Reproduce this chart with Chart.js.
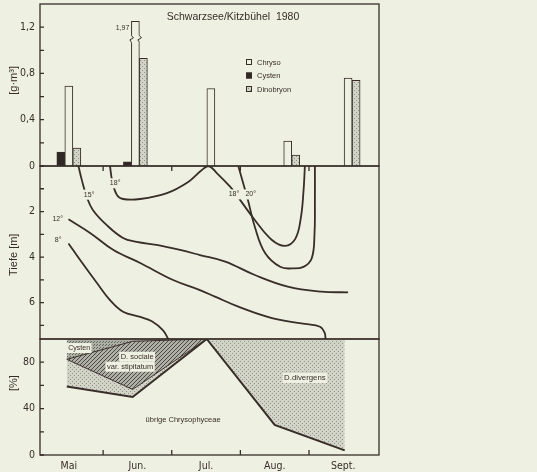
<!DOCTYPE html>
<html>
<head>
<meta charset="utf-8">
<script src="https://cdn.jsdelivr.net/npm/chart.js@4.4.1/dist/chart.umd.min.js"></script>
<style>
  html, body { margin: 0; padding: 0; background: #eef0e1; }
  #page { position: relative; width: 537px; height: 472px; overflow: hidden; background: #eef0e1; }
  #page canvas { position: absolute; left: 0; }
</style>
</head>
<body>
<div id="page">
  <canvas id="mass" width="537" height="172" style="top:0"></canvas>
  <canvas id="depth" width="537" height="185" style="top:160px"></canvas>
  <canvas id="share" width="537" height="139" style="top:333px"></canvas>
</div>
<script>
// Schwarzsee / Kitzbühel 1980: biomass, isotherms and composition

const months = ["Mai", "Jun.", "Jul.", "Aug.", "Sept."];
const monthCentres = [0.5, 1.5, 2.5, 3.5, 4.5]; // months after 1 May
const monthBounds = [1, 2, 3, 4];

// biomass [g m-3]
const barDates = [0.5, 1.47, 2.57, 3.69, 4.57];
const chryso = [0.69, 1.97, 0.67, 0.215, 0.76];
const cysten = [0.12, 0.035, 0, 0, 0];
const dinobryon = [0.155, 0.93, 0, 0.095, 0.74];
const massTicks = [0, 0.2, 0.4, 0.6, 0.8, 1, 1.2];
const massLabels = [0, 0.4, 0.8, 1.2];

// isotherms, [month, depth m]
const iso8 = [[0.495, 3.4], [0.665, 4.13], [0.91, 5.14], [1.1, 5.89], [1.29, 6.4],
  [1.54, 6.63], [1.71, 6.82], [1.87, 7.21], [1.95, 7.6]];
const iso12 = [[0.495, 2.34], [0.81, 2.94], [1.15, 3.69], [1.54, 4.26], [2.02, 5.01],
  [2.41, 5.45], [2.63, 5.74], [2.97, 6.18], [3.46, 6.68], [3.94, 6.94], [4.16, 7.06],
  [4.23, 7.34], [4.24, 7.6]];
const iso15 = [[0.64, 0], [0.69, 0.62], [0.76, 1.35], [0.85, 1.93], [1.05, 2.59],
  [1.29, 3.16], [1.49, 3.33], [1.78, 3.47], [2.12, 3.69], [2.41, 3.91], [2.78, 4.2],
  [3.21, 4.79], [3.69, 5.3], [4.18, 5.52], [4.57, 5.55]];
const iso18 = [[1.1, 0], [1.13, 0.62], [1.2, 1.27], [1.29, 1.45], [1.54, 1.45],
  [1.93, 1.19], [2.24, 0.7], [2.43, 0.2], [2.535, 0], [2.66, 0.32], [2.85, 0.91],
  [2.95, 1.3], [3.21, 2.37], [3.46, 3.25], [3.65, 3.51], [3.8, 3.2], [3.88, 2.3],
  [3.92, 1.1], [3.94, 0]];
const iso20 = [[2.97, 0], [3.04, 0.75], [3.11, 1.49], [3.21, 2.67], [3.36, 3.82],
  [3.58, 4.43], [3.75, 4.5], [3.92, 4.43], [4.04, 4.05], [4.08, 3.0], [4.086, 1.5],
  [4.086, 0]];
const isoNames = ["8°", "12°", "15°", "18°", "18°", "20°"];
const isoNameAt = [[0.345, 3.27], [0.338, 2.33], [0.796, 1.26], [1.175, 0.76],
  [2.907, 1.25], [3.151, 1.25]];
const depthTicks = [1, 2, 3, 4, 5, 6, 7];
const depthLabels = [2, 4, 6];

// composition [%]
const shareDates = [0.47, 1.43, 2.51, 3.5, 4.52];
const otherChryso = [59, 50, 100, 26, 4];
const divergens = [23.5, 6.5, 0, 74, 96];
const sociale = [0, 41.5, 0, 0, 0];
const cystenShare = [17.5, 2, 0, 0, 0];
const shareTicks = [0, 20, 40, 60, 80];
const shareLabels = [0, 40, 80];

const ink = "#372d29";
const paper = "#eef0e1";
const NARROW = "'Liberation Sans Narrow', 'DejaVu Sans Condensed', sans-serif";
const SANS = "'Liberation Sans', 'DejaVu Sans', sans-serif";
const barCap = 1.25;

function tile(size, draw) {
  const c = document.createElement("canvas");
  c.width = c.height = size;
  const g = c.getContext("2d");
  draw(g);
  return g.createPattern(c, "repeat");
}
const dotsLight = tile(4, (g) => {
  g.fillStyle = "#d3d4c8"; g.fillRect(0, 0, 4, 4);
  g.fillStyle = "#8e8f87"; g.fillRect(0, 0, 1, 1); g.fillRect(2, 2, 1, 1);
});
const dotsDark = tile(3, (g) => {
  g.fillStyle = "#aeafa5"; g.fillRect(0, 0, 3, 3);
  g.fillStyle = "#64655e"; g.fillRect(0, 0, 1, 1); g.fillRect(1, 2, 1, 1);
});
const hatch = tile(4, (g) => {
  g.fillStyle = "#aeafa5"; g.fillRect(0, 0, 4, 4);
  g.fillStyle = "#4e4844";
  for (let i = 0; i < 4; i++) g.fillRect(i, 3 - i, 1, 1);
});

const fmt = (v) => String(v).replace(".", ",");
const pts = (xs, ys) => ys.map((y, i) => ({ x: xs[i], y }));

function xAxis(show) {
  return {
    type: "linear", min: 0.08, max: 5.02, display: show, offset: false,
    afterBuildTicks: (s) => { s.ticks = monthCentres.map((value) => ({ value })); },
    afterFit: (s) => { s.height = show ? 17 : 0; s.paddingLeft = 0; s.paddingRight = 0; },
    ticks: { callback: (v, i) => months[i], padding: 5, color: ink,
      font: { family: NARROW, size: 10.5 }, autoSkip: false, maxRotation: 0 },
    grid: { display: false, drawTicks: false },
    border: { display: false },
  };
}
function yAxis(ticks, labelled, extra) {
  return Object.assign({
    afterBuildTicks: (s) => { s.ticks = ticks.map((value) => ({ value })); },
    afterFit: (s) => { s.width = 40; s.paddingTop = 0; s.paddingBottom = 0; },
    ticks: { callback: (v) => (labelled.includes(v) ? fmt(v) : ""), padding: 5,
      color: ink, font: { family: NARROW, size: 10.5 }, autoSkip: false },
    grid: { display: false, drawTicks: false },
    border: { display: false },
  }, extra);
}

// box, inward ticks and the rotated axis title
const framePlugin = {
  id: "frame",
  afterDraw(chart, args, opts) {
    const { ctx, chartArea: a, scales } = chart;
    ctx.save();
    ctx.strokeStyle = ink;
    ctx.lineWidth = 1.3;
    ctx.strokeRect(a.left, a.top, a.right - a.left, a.bottom - a.top);
    ctx.beginPath();
    scales.y.ticks.forEach((t) => {
      const y = scales.y.getPixelForValue(t.value);
      ctx.moveTo(a.left, y); ctx.lineTo(a.left + 4, y);
    });
    (opts.xTicks || []).forEach((v) => {
      const x = scales.x.getPixelForValue(v);
      if (opts.xEdge === "top") { ctx.moveTo(x, a.top); ctx.lineTo(x, a.top + 5); }
      else { ctx.moveTo(x, a.bottom); ctx.lineTo(x, a.bottom - 5); }
    });
    ctx.stroke();
    if (opts.title) {
      ctx.translate(a.left - 26, scales.y.getPixelForValue(opts.titleAt));
      ctx.rotate(-Math.PI / 2);
      ctx.fillStyle = ink;
      ctx.font = "11px " + SANS;
      ctx.textAlign = "center";
      ctx.textBaseline = "middle";
      ctx.fillText(opts.title, 0, 0);
    }
    ctx.restore();
  },
};

// text labels placed in data coordinates
const notesPlugin = {
  id: "notes",
  afterDatasetsDraw(chart, args, opts) {
    const { ctx, scales: { x, y } } = chart;
    ctx.save();
    ctx.textAlign = "center";
    ctx.textBaseline = "middle";
    (opts.items || []).forEach((it) => {
      ctx.font = (it.size || 7.5) + "px " + SANS;
      const px = x.getPixelForValue(it.at[0]);
      const py = y.getPixelForValue(it.at[1]);
      const w = ctx.measureText(it.text).width;
      if (it.box) {
        ctx.fillStyle = paper;
        ctx.fillRect(px - w / 2 - 1.5, py - 5, w + 3, 10);
      }
      ctx.fillStyle = ink;
      ctx.fillText(it.text, px, py);
    });
    ctx.restore();
  },
};

// broken bar, title and legend of the biomass panel
const barDecor = {
  id: "barDecor",
  afterDatasetsDraw(chart) {
    const { ctx, chartArea: a } = chart;
    ctx.save();
    chart.data.datasets.forEach((ds, di) => {
      ds.raw.forEach((v, i) => {
        if (v <= barCap) return;
        const el = chart.getDatasetMeta(di).data[i];
        const l = el.x - el.width / 2, r = el.x + el.width / 2, b = el.y + 14;
        ctx.fillStyle = paper;
        ctx.fillRect(l - 3, b, r - l + 6, 7);
        ctx.strokeStyle = ink;
        ctx.lineWidth = 1;
        [l, r].forEach((e) => {
          ctx.beginPath();
          ctx.moveTo(e, b); ctx.lineTo(e + 2, b + 2.5);
          ctx.lineTo(e - 1.5, b + 4.5); ctx.lineTo(e, b + 7);
          ctx.stroke();
        });
        ctx.fillStyle = ink;
        ctx.font = "7px " + SANS;
        ctx.textAlign = "right";
        ctx.textBaseline = "middle";
        ctx.fillText(v.toFixed(2).replace(".", ","), l - 2, el.y + 7);
      });
    });

    ctx.fillStyle = ink;
    ctx.font = "10.5px " + SANS;
    ctx.textAlign = "center";
    ctx.textBaseline = "middle";
    ctx.fillText("Schwarzsee/Kitzbühel  1980", a.left + 193, a.top + 13);

    ["Chryso", "Cysten", "Dinobryon"].forEach((name, k) => {
      const ds = chart.data.datasets.find((d) => d.label === name);
      const bx = a.left + 206, by = a.top + 55 + k * 13.5;
      ctx.fillStyle = ds.backgroundColor;
      ctx.fillRect(bx, by, 6, 6);
      ctx.strokeStyle = ink;
      ctx.lineWidth = 1;
      ctx.strokeRect(bx + 0.5, by + 0.5, 5, 5);
      ctx.fillStyle = ink;
      ctx.font = "7.5px " + SANS;
      ctx.textAlign = "left";
      ctx.fillText(name, bx + 11, by + 3.5);
    });
    ctx.restore();
  },
};

const common = {
  responsive: false,
  animation: false,
  devicePixelRatio: 1,
  events: [],
};

new Chart(document.getElementById("mass"), {
  type: "bar",
  data: {
    datasets: [
      ["Cysten", cysten, "#2f2826"],
      ["Chryso", chryso, paper],
      ["Dinobryon", dinobryon, dotsLight],
    ].map(([label, vals, bg]) => ({
      label,
      raw: vals,
      data: pts(barDates, vals.map((v) => Math.min(v, barCap))),
      backgroundColor: bg,
      borderColor: ink,
      borderWidth: 1,
      barThickness: 8,
    })),
  },
  options: Object.assign({}, common, {
    layout: { padding: { top: 4, bottom: 6, left: 0, right: 158 } },
    scales: {
      x: xAxis(false),
      y: yAxis(massTicks, massLabels, { min: 0, max: 1.4 }),
    },
    plugins: {
      legend: { display: false }, tooltip: { enabled: false },
      frame: { title: "[g·m³]", titleAt: 0.74 },
    },
  }),
  plugins: [barDecor, framePlugin],
});

new Chart(document.getElementById("depth"), {
  type: "line",
  data: {
    datasets: [iso8, iso12, iso15, iso18, iso20].map((line) => ({
      data: line.map(([x, y]) => ({ x, y })),
      borderColor: ink,
      borderWidth: 1.8,
      tension: 0.4,
      pointRadius: 0,
      fill: false,
    })),
  },
  options: Object.assign({}, common, {
    layout: { padding: { top: 6, bottom: 6, left: 0, right: 158 } },
    scales: {
      x: xAxis(false),
      y: yAxis(depthTicks, depthLabels, { min: 0, max: 7.6, reverse: true }),
    },
    plugins: {
      legend: { display: false }, tooltip: { enabled: false },
      frame: { title: "Tiefe [m]", titleAt: 3.9, xTicks: monthBounds, xEdge: "top" },
      notes: { items: isoNames.map((text, i) => ({ text, at: isoNameAt[i], box: true, size: 7 })) },
    },
  }),
  plugins: [notesPlugin, framePlugin],
});

new Chart(document.getElementById("share"), {
  type: "line",
  data: {
    datasets: [
      { label: "übrige Chrysophyceae", data: pts(shareDates, otherChryso), fill: false, borderWidth: 2 },
      { label: "D. divergens", data: pts(shareDates, divergens), fill: "-1", backgroundColor: dotsLight, borderWidth: 1 },
      { label: "D. sociale var. stipitatum", data: pts(shareDates, sociale), fill: "-1", backgroundColor: hatch, borderWidth: 1 },
      { label: "Cysten", data: pts(shareDates, cystenShare), fill: "-1", backgroundColor: dotsDark, borderWidth: 1 },
    ].map((d) => Object.assign(d, { borderColor: ink, tension: 0, pointRadius: 0 })),
  },
  options: Object.assign({}, common, {
    layout: { padding: { top: 6, bottom: 0, left: 0, right: 158 } },
    scales: {
      x: xAxis(true),
      y: yAxis(shareTicks, shareLabels, { min: 0, max: 100, stacked: true }),
    },
    plugins: {
      legend: { display: false }, tooltip: { enabled: false },
      frame: { title: "[%]", titleAt: 62, xTicks: monthBounds, xEdge: "bottom" },
      notes: {
        items: [
          { text: "Cysten", at: [0.651, 92.2], box: true, size: 7 },
          { text: "D. sociale", at: [1.495, 84.7], box: true, size: 7.5 },
          { text: "var. stipitatum", at: [1.393, 76.1], box: true, size: 7.5 },
          { text: "D.divergens", at: [3.94, 66.4], box: true, size: 7.8 },
          { text: "übrige Chrysophyceae", at: [2.165, 30.2], box: false, size: 7.5 },
        ],
      },
    },
  }),
  plugins: [notesPlugin, framePlugin],
});
</script>
</body>
</html>
